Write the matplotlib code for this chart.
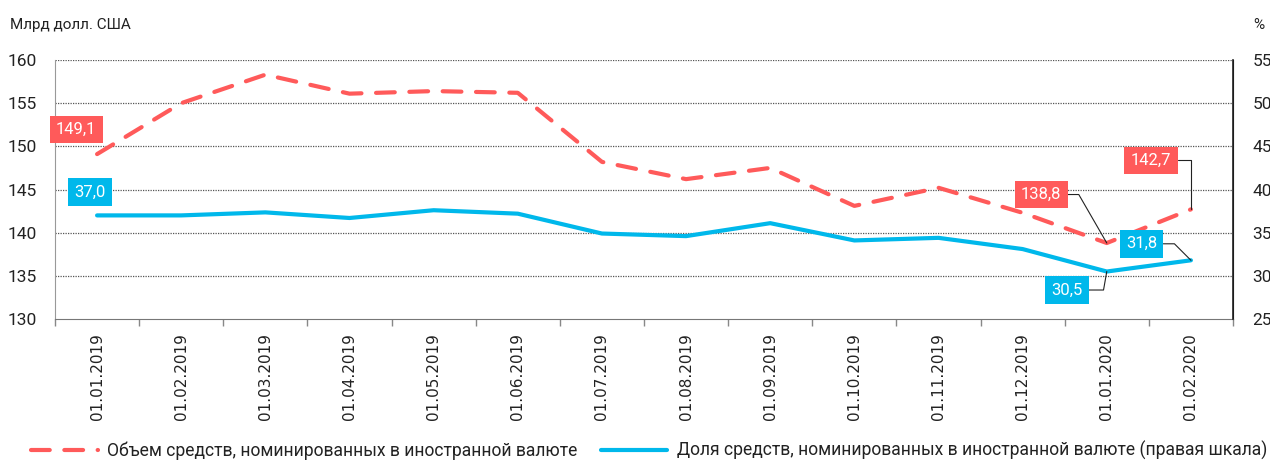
import numpy as np
import matplotlib.pyplot as plt

# Monthly data
dates = ["01.01.2019", "01.02.2019", "01.03.2019", "01.04.2019", "01.05.2019",
         "01.06.2019", "01.07.2019", "01.08.2019", "01.09.2019", "01.10.2019",
         "01.11.2019", "01.12.2019", "01.01.2020", "01.02.2020"]
volume = [149.1, 155.0, 158.3, 156.1, 156.4, 156.2, 148.2,
          146.2, 147.5, 143.1, 145.2, 142.3, 138.8, 142.7]   # млрд долл. США
share = [37.0, 37.0, 37.35, 36.7, 37.6, 37.2, 34.9,
         34.6, 36.1, 34.1, 34.4, 33.1, 30.5, 31.8]            # %

left_ticks = [130, 135, 140, 145, 150, 155, 160]
right_ticks = [25, 30, 35, 40, 45, 50, 55]

name_volume = "Объем средств, номинированных в иностранной валюте"
name_share = "Доля средств, номинированных в иностранной валюте (правая шкала)"

RED = "#FF5A5A"
BLUE = "#00B8EB"

plt.rcParams['font.family'] = ['Roboto', 'DejaVu Sans']

fig = plt.figure(figsize=(12.7, 4.62), dpi=100)
ax = fig.add_axes([55 / 1270, 1 - 319 / 462, (1233 - 55) / 1270, (319 - 60) / 462])
ax2 = ax.twinx()

x = np.arange(len(dates))

# series
line_v, = ax.plot(x, volume, color=RED, lw=3, dashes=(4.5, 3.5),
                  dash_capstyle='round', zorder=3, label=name_volume)
line_s, = ax2.plot(x, share, color=BLUE, lw=3, solid_capstyle='round',
                   zorder=3, label=name_share)

# scales
ax.set_xlim(-0.5, len(dates) - 0.5)
ax.set_ylim(left_ticks[0], left_ticks[-1])
ax2.set_ylim(right_ticks[0], right_ticks[-1])
ax.set_yticks(left_ticks)
ax2.set_yticks(right_ticks)

# grid (dotted, left scale)
for t in left_ticks[1:]:
    ax.axhline(t, color="#555555", lw=0.9, ls=(0, (1, 1)), zorder=1)

# x axis: ticks at category boundaries, labels at centers
ax.set_xticks(np.arange(len(dates) + 1) - 0.5)
ax.set_xticklabels([])
ax.set_xticks(x, minor=True)
ax.set_xticklabels(dates, minor=True, rotation=90, fontsize=11,
                   family=['DejaVu Sans'], color="#222222")
ax.tick_params(axis='x', which='major', length=5, color="#888888", width=1)
ax.tick_params(axis='x', which='minor', length=0, pad=10)

ax.tick_params(axis='y', length=0, pad=13, labelsize=12.5, labelcolor="#222222")
ax2.tick_params(axis='y', length=0, pad=14, labelsize=12.5, labelcolor="#222222")

for s in ['top']:
    ax.spines[s].set_visible(False)
    ax2.spines[s].set_visible(False)
ax.spines['left'].set_color("#999999")
ax.spines['bottom'].set_color("#777777")
ax2.spines['left'].set_visible(False)
ax2.spines['bottom'].set_visible(False)
ax2.spines['right'].set_color("#222222")
ax2.spines['right'].set_linewidth(1.2)

# axis titles
fig.text(10 / 1270, 1 - 25 / 462, "Млрд долл. США", fontsize=11,
         va='center', ha='left', color="#222222")
fig.text(1253 / 1270, 1 - 25 / 462, "%", fontsize=11,
         va='center', ha='left', color="#222222")

# value labels: (axis, series, index, color, offset px, leader angle)
labels = [
    (ax, volume, 0, RED, (-21, 24.5), None),
    (ax2, share, 0, BLUE, (-7.5, 23.5), None),
    (ax, volume, 13, RED, (-40, 49), 90),
    (ax, volume, 12, RED, (-65.5, 48.5), 120),
    (ax2, share, 13, BLUE, (-49.5, 16.5), 135),
    (ax2, share, 12, BLUE, (-40, -18.5), 80),
]
for a, series, i, col, off, ang in labels:
    txt = f"{series[i]:.1f}".replace(".", ",")
    arrow = None
    if ang is not None:
        arrow = dict(arrowstyle='-', color="#222222", lw=0.8, relpos=(1, 0.5),
                     shrinkA=0, shrinkB=0,
                     connectionstyle=f"angle,angleA=0,angleB={ang},rad=0")
    a.annotate(txt, xy=(i, series[i]), xytext=off, textcoords='offset pixels',
               ha='center', va='center', color='white', fontsize=12,
               bbox=dict(boxstyle='square,pad=0.38', fc=col, ec='none'),
               arrowprops=arrow, zorder=5, annotation_clip=False)

# legend
fig.legend(handles=[line_v, line_s], loc='lower left', ncol=2,
           bbox_to_anchor=(31 / 1270, 2 / 462), frameon=False, fontsize=12.65,
           handlelength=3.8, handletextpad=0.55, columnspacing=1.3,
           borderpad=0, borderaxespad=0, labelcolor="#222222")

fig.savefig("out.png", dpi=100)
